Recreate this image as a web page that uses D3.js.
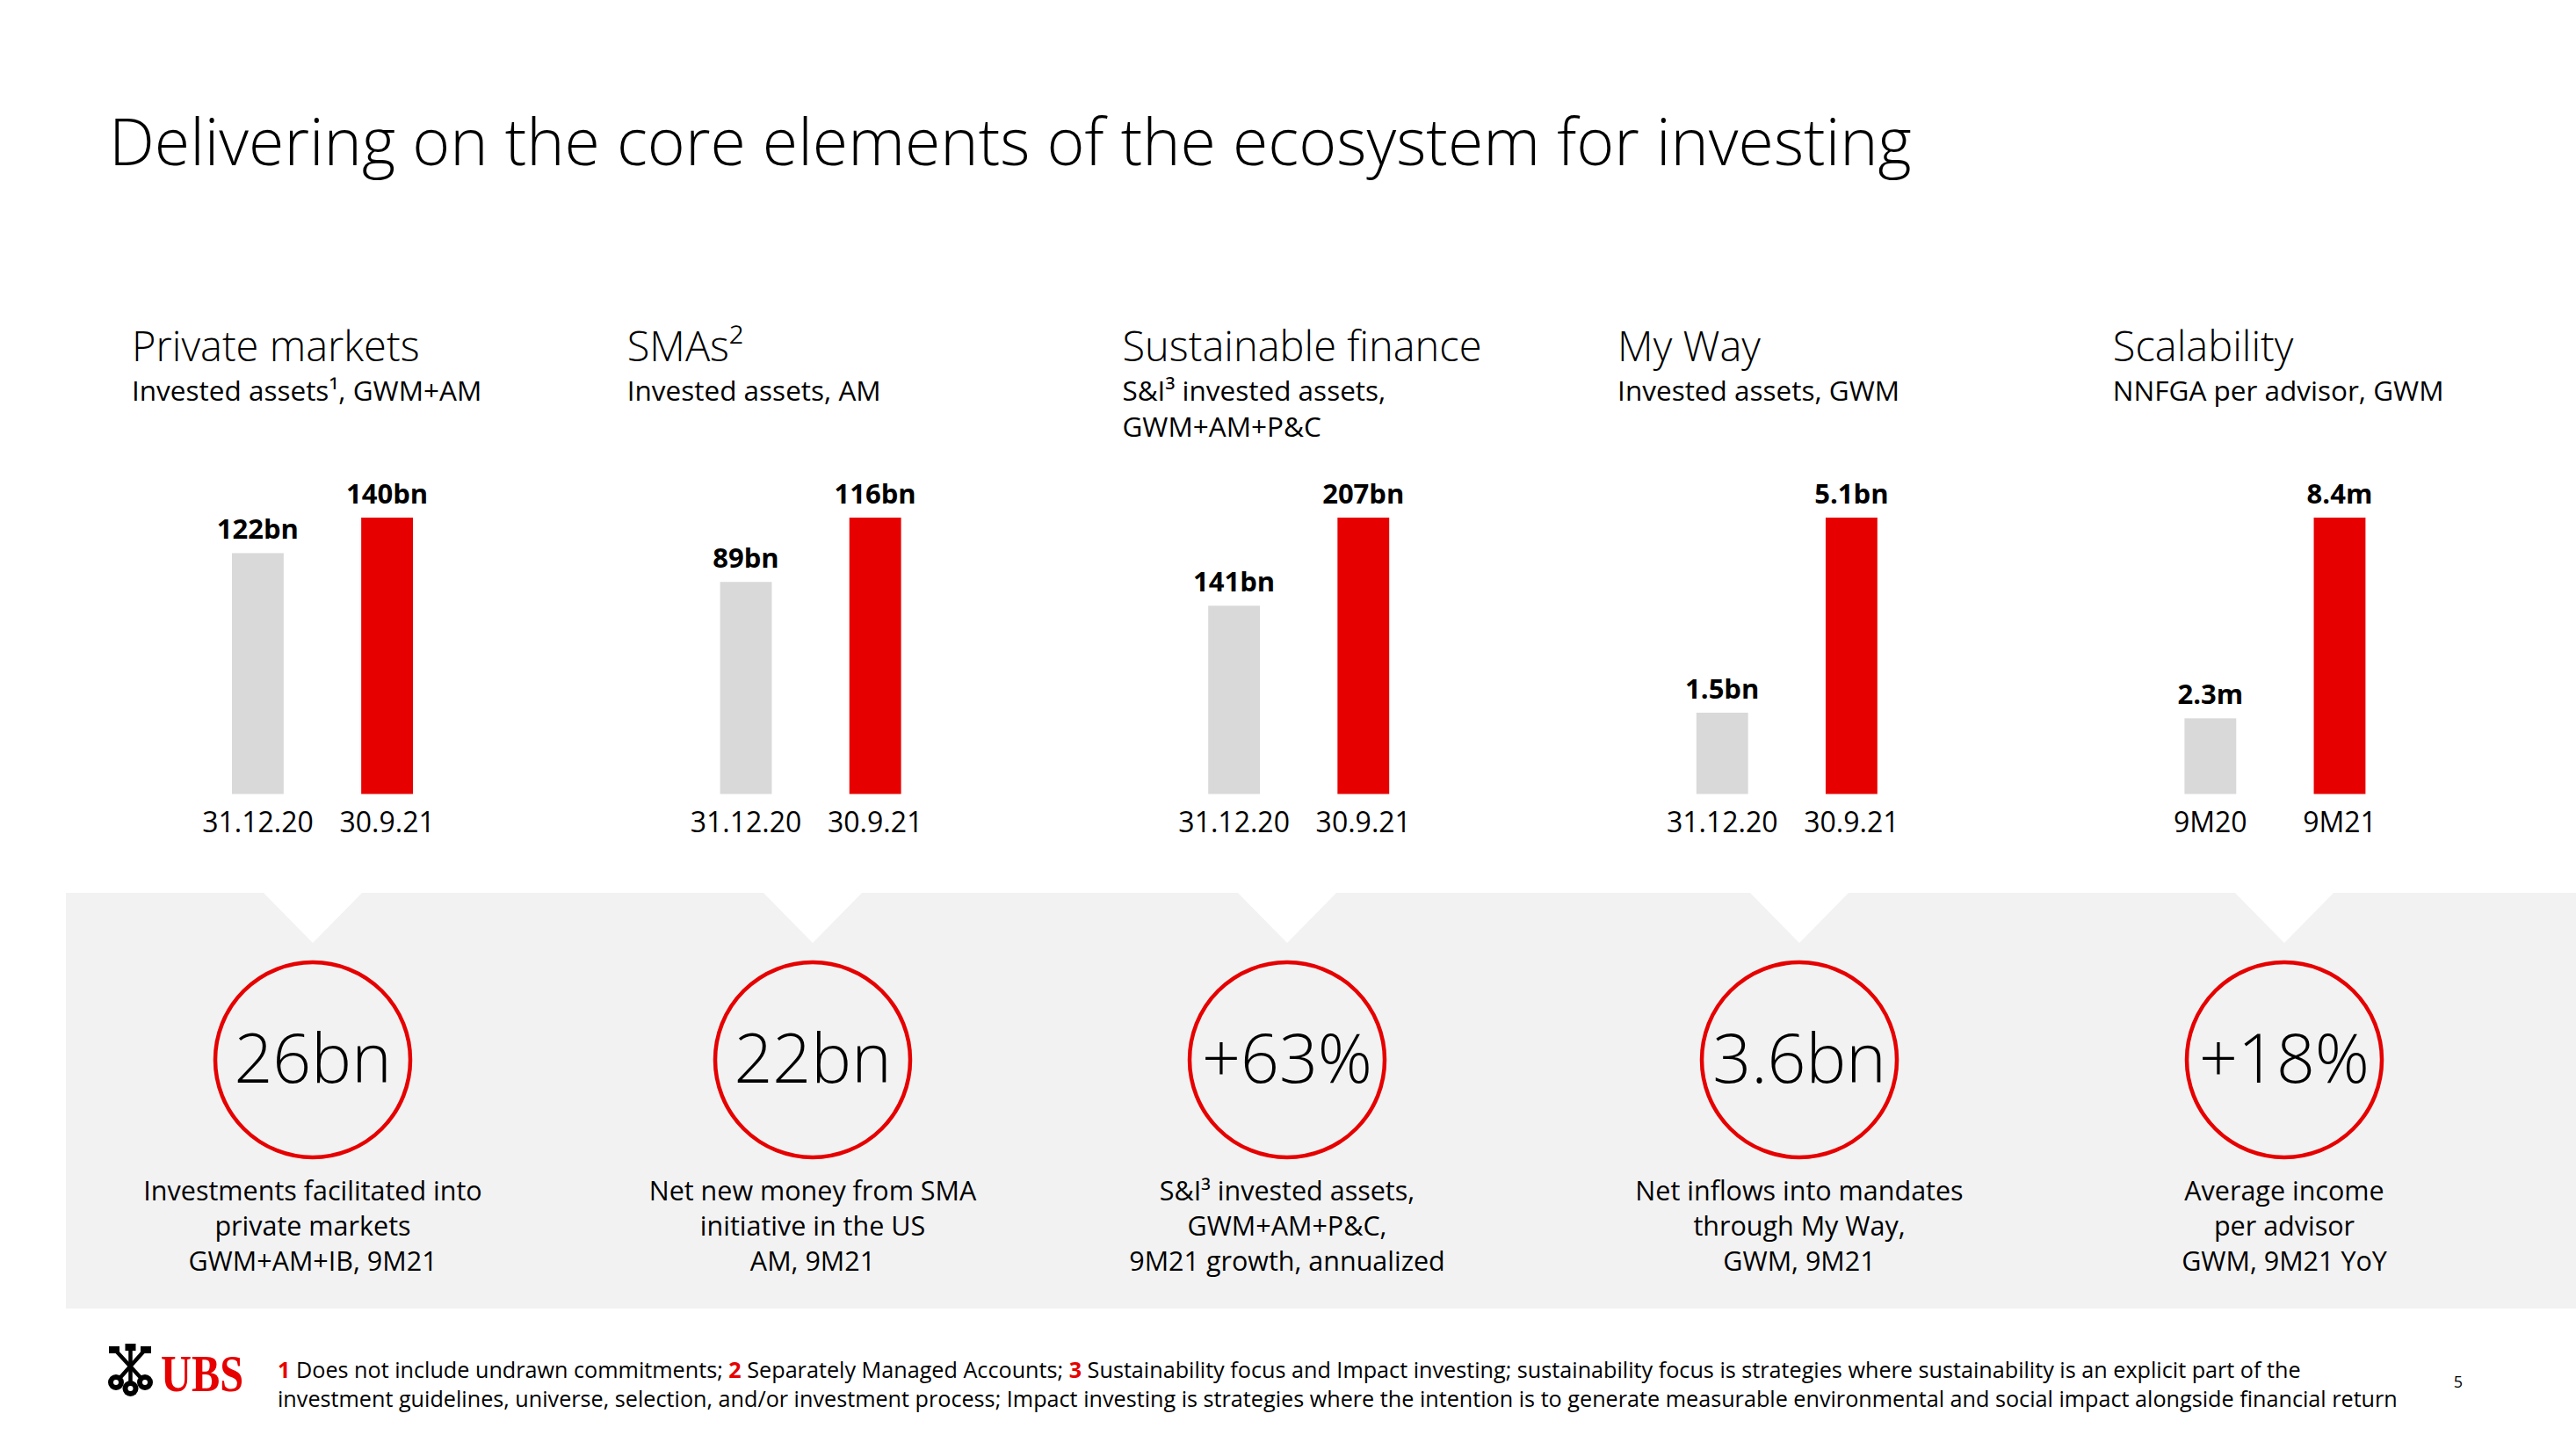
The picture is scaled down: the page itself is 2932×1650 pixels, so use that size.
<!DOCTYPE html>
<html lang="en">
<head>
<meta charset="UTF-8">
<title>Ecosystem for investing</title>
<script src="https://d3js.org/d3.v7.min.js"></script>
<style>
  body { margin: 0; background: #fff; }
  svg { display: block; }
  text { font-family: "Open Sans", "Noto Sans", sans-serif; fill: #000; }
  .title { font-weight: 300; }
  .heading { font-weight: 300; }
  .value { font-weight: 700; }
  .big { font-weight: 300; }
</style>
</head>
<body>
<svg width="2932" height="1650"></svg>
<script>
// chart values
const headings = ["Private markets", "SMAs²", "Sustainable finance", "My Way", "Scalability"];
const subtitles = [
  ["Invested assets¹, GWM+AM"],
  ["Invested assets, AM"],
  ["S&I³ invested assets,", "GWM+AM+P&C"],
  ["Invested assets, GWM"],
  ["NNFGA per advisor, GWM"]
];
const periods = [
  ["31.12.20", "30.9.21"],
  ["31.12.20", "30.9.21"],
  ["31.12.20", "30.9.21"],
  ["31.12.20", "30.9.21"],
  ["9M20", "9M21"]
];
const before = [122, 89, 141, 1.5, 2.3];
const after = [140, 116, 207, 5.1, 8.4];
const units = ["bn", "bn", "bn", "bn", "m"];
const highlights = ["26bn", "22bn", "+63%", "3.6bn", "+18%"];
const captions = [
  ["Investments facilitated into", "private markets", "GWM+AM+IB, 9M21"],
  ["Net new money from SMA", "initiative in the US", "AM, 9M21"],
  ["S&I³ invested assets,", "GWM+AM+P&C,", "9M21 growth, annualized"],
  ["Net inflows into mandates", "through My Way,", "GWM, 9M21"],
  ["Average income", "per advisor", "GWM, 9M21 YoY"]
];
const footnotes = [
  [["1", true], [" Does not include undrawn commitments; ", false], ["2", true], [" Separately Managed Accounts; ", false], ["3", true],
   [" Sustainability focus and Impact investing; sustainability focus is strategies where sustainability is an explicit part of the", false]],
  [["investment guidelines, universe, selection, and/or investment process; Impact investing is strategies where the intention is to generate measurable environmental and social impact alongside financial return", false]]
];

// layout
const red = "#e60000", grey = "#d9d9d9", bandFill = "#f2f2f2";
const calloutX = [356, 925, 1465, 2048, 2600];

const svg = d3.select("svg");
svg.append("rect").attr("width", 2932).attr("height", 1650).attr("fill", "#fff");

// title
const title = svg.append("text").attr("class", "title")
  .attr("x", 124).attr("y", 188).attr("font-size", 76)
  .text("Delivering on the core elements of the ecosystem for investing");
const tw = title.node().getComputedTextLength();
title.attr("font-size", 76 * 2052 / tw);

// bar panels
const barBottom = 903.5, barTop = 589;
headings.forEach((h, i) => {
  const hx = 150 + i * 563.7;
  const g = svg.append("g");
  g.append("text").attr("class", "heading").attr("x", hx).attr("y", 411)
    .attr("font-size", 47).text(h);
  subtitles[i].forEach((s, j) => {
    g.append("text").attr("x", hx).attr("y", 456 + j * 41)
      .attr("font-size", 31.5).text(s);
  });

  const x0 = 264 + i * 555.6;
  const x = d3.scaleBand().domain(periods[i]).range([x0, x0 + 206])
    .paddingInner(0.6).paddingOuter(0);
  const y = d3.scaleLinear().domain([0, after[i]]).range([barBottom, barTop]);
  const vals = [before[i], after[i]];

  g.selectAll(".bar").data(vals).join("rect")
    .attr("x", (d, k) => x(periods[i][k]))
    .attr("width", x.bandwidth())
    .attr("y", d => y(d))
    .attr("height", d => barBottom - y(d))
    .attr("fill", (d, k) => k === 0 ? grey : red);

  g.selectAll(".value").data(vals).join("text").attr("class", "value")
    .attr("x", (d, k) => x(periods[i][k]) + x.bandwidth() / 2)
    .attr("y", d => y(d) - 16)
    .attr("text-anchor", "middle").attr("font-size", 31)
    .text(d => d + units[i]);

  g.selectAll(".period").data(periods[i]).join("text")
    .attr("x", d => x(d) + x.bandwidth() / 2)
    .attr("y", 947).attr("text-anchor", "middle").attr("font-size", 32)
    .text(d => d);
});

// grey band with notches
const bandTop = 1016, bandBottom = 1489, bandLeft = 75, bandRight = 2932, half = 56, depth = 57;
const p = d3.path();
p.moveTo(bandLeft, bandTop);
calloutX.forEach(cx => {
  p.lineTo(cx - half, bandTop);
  p.lineTo(cx, bandTop + depth);
  p.lineTo(cx + half, bandTop);
});
p.lineTo(bandRight, bandTop);
p.lineTo(bandRight, bandBottom);
p.lineTo(bandLeft, bandBottom);
p.closePath();
svg.append("path").attr("d", p.toString()).attr("fill", bandFill);

// callouts
const cy = 1206;
calloutX.forEach((cx, i) => {
  svg.append("circle").attr("cx", cx).attr("cy", cy).attr("r", 111)
    .attr("fill", "none").attr("stroke", red).attr("stroke-width", 4.5);
  svg.append("text").attr("class", "big").attr("x", cx).attr("y", 1232)
    .attr("text-anchor", "middle").attr("font-size", 77).text(highlights[i]);
  captions[i].forEach((c, j) => {
    svg.append("text").attr("x", cx).attr("y", 1366 + j * 40)
      .attr("text-anchor", "middle").attr("font-size", 30.5).text(c);
  });
});

// footer logo
const logo = svg.append("g");
const keys = [
  { bx: 132, by: 1573, tx: 166, ty: 1535 },
  { bx: 165, by: 1573, tx: 130, ty: 1535 },
  { bx: 148.5, by: 1580, tx: 148.5, ty: 1532 }
];
keys.forEach(k => {
  logo.append("line").attr("x1", k.bx).attr("y1", k.by).attr("x2", k.tx).attr("y2", k.ty)
    .attr("stroke", "#000").attr("stroke-width", 4.5);
  logo.append("circle").attr("cx", k.bx).attr("cy", k.by).attr("r", 9).attr("fill", "#000");
  logo.append("circle").attr("cx", k.bx).attr("cy", k.by).attr("r", 3).attr("fill", "#fff");
  logo.append("rect").attr("x", k.tx - 6).attr("y", k.ty - 3).attr("width", 12).attr("height", 8).attr("fill", "#000");
});
logo.append("text").attr("x", 183).attr("y", 1583)
  .attr("font-weight", 700)
  .attr("font-size", 60).attr("textLength", 94).attr("lengthAdjust", "spacingAndGlyphs")
  .style("font-family", "'Liberation Serif', serif").style("fill", red).text("UBS");

// footnotes
footnotes.forEach((line, j) => {
  const t = svg.append("text").attr("x", 316).attr("y", 1568 + j * 33).attr("font-size", 25.2);
  line.forEach(([s, hi]) => {
    t.append("tspan").text(s)
      .style("fill", hi ? red : "#000")
      .attr("font-weight", hi ? 700 : 400);
  });
});

svg.append("text").attr("x", 2798).attr("y", 1579).attr("text-anchor", "middle")
  .attr("font-size", 18).text("5");
</script>
</body>
</html>
